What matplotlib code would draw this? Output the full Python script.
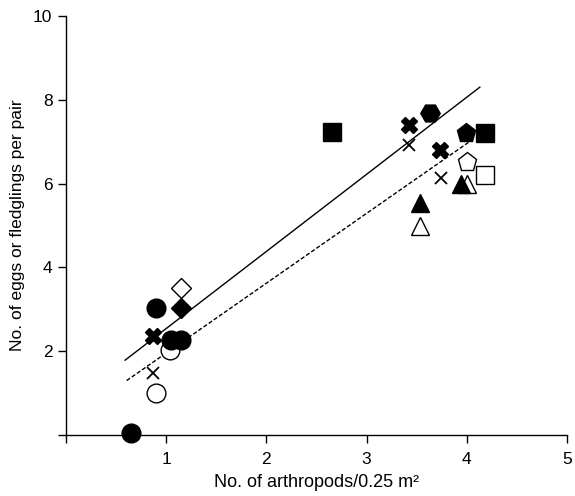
import numpy as np
import matplotlib
matplotlib.use("Agg")
import matplotlib.pyplot as plt

plt.rcParams["font.family"] = ["Liberation Sans", "DejaVu Sans"]

# points, grouped by symbol
filled_circle_x = [0.90, 1.05, 1.15, 0.65]
filled_circle_y = [3.02, 2.27, 2.27, 0.05]
open_circle_x = [1.04, 0.90]
open_circle_y = [2.03, 1.01]
filled_diamond_x = [1.15]
filled_diamond_y = [3.02]
open_diamond_x = [1.15]
open_diamond_y = [3.50]
bold_cross_x = [0.87, 3.42, 3.73]
bold_cross_y = [2.35, 7.40, 6.79]
thin_cross_x = [0.87, 3.42, 3.74]
thin_cross_y = [1.47, 6.92, 6.14]
filled_square_x = [2.65, 4.18]
filled_square_y = [7.24, 7.21]
open_square_x = [4.18]
open_square_y = [6.20]
filled_hex_x = [3.63]
filled_hex_y = [7.68]
filled_pent_x = [3.99]
filled_pent_y = [7.20]
open_pent_x = [4.00]
open_pent_y = [6.52]
filled_tri_x = [3.94, 3.53]
filled_tri_y = [6.00, 5.53]
open_tri_x = [4.00, 3.53]
open_tri_y = [6.00, 4.99]

# regression lines: (slope, intercept, x start, x end)
eggs_fit = (1.84, 0.70, 0.59, 4.13)
fledg_fit = (1.666, 0.29, 0.605, 4.05)

fig = plt.figure(figsize=(5.75, 4.96), dpi=100)
ax = fig.add_axes([0.1148, 0.123, 0.8713, 0.845])

for (slope, icpt, x0, x1), ls in [(eggs_fit, "-"), (fledg_fit, (0, (3, 1.5)))]:
    xs = np.array([x0, x1])
    ax.plot(xs, slope * xs + icpt, color="black", lw=1.0, ls=ls, zorder=1)

def pts(x, y, marker, filled, size):
    ax.plot(x, y, ls="none", marker=marker, markersize=size,
            markerfacecolor="black" if filled else "white",
            markeredgecolor="black", markeredgewidth=1.0, zorder=3)

pts(open_circle_x, open_circle_y, "o", False, 13.5)
pts(filled_circle_x, filled_circle_y, "o", True, 13.5)
pts(open_diamond_x, open_diamond_y, "D", False, 10)
pts(filled_diamond_x, filled_diamond_y, "D", True, 10)
pts(filled_square_x, filled_square_y, "s", True, 13)
pts(open_square_x, open_square_y, "s", False, 13)
pts(filled_hex_x, filled_hex_y, "H", True, 14)
pts(filled_pent_x, filled_pent_y, "p", True, 14)
pts(open_pent_x, open_pent_y, "p", False, 14)
pts(open_tri_x, open_tri_y, "^", False, 13)
pts(filled_tri_x, filled_tri_y, "^", True, 13)
pts(bold_cross_x, bold_cross_y, "X", True, 12)
ax.plot(thin_cross_x, thin_cross_y, ls="none", marker="x", markersize=9,
        color="black", markeredgewidth=1.3, zorder=3)

ax.set_xlim(0, 5)
ax.set_ylim(0, 10)
ax.set_xticks([0, 1, 2, 3, 4, 5])
ax.set_xticklabels(["", "1", "2", "3", "4", "5"])
ax.set_yticks([0, 2, 4, 6, 8, 10])
ax.set_yticklabels(["", "2", "4", "6", "8", "10"])
ax.tick_params(direction="out", length=5.5, width=1, labelsize=12.5)
ax.tick_params(axis="x", pad=7)
ax.tick_params(axis="y", pad=4.3)
for side in ["top", "right"]:
    ax.spines[side].set_visible(False)
for side in ["left", "bottom"]:
    ax.spines[side].set_linewidth(1)

ax.set_xlabel("No. of arthropods/0.25 m²", fontsize=13, labelpad=5)
ax.set_ylabel("No. of eggs or fledglings per pair", fontsize=12.5, labelpad=6)

for a in ax.lines:
    a.set_clip_on(False)

fig.savefig("out.png", dpi=100)
